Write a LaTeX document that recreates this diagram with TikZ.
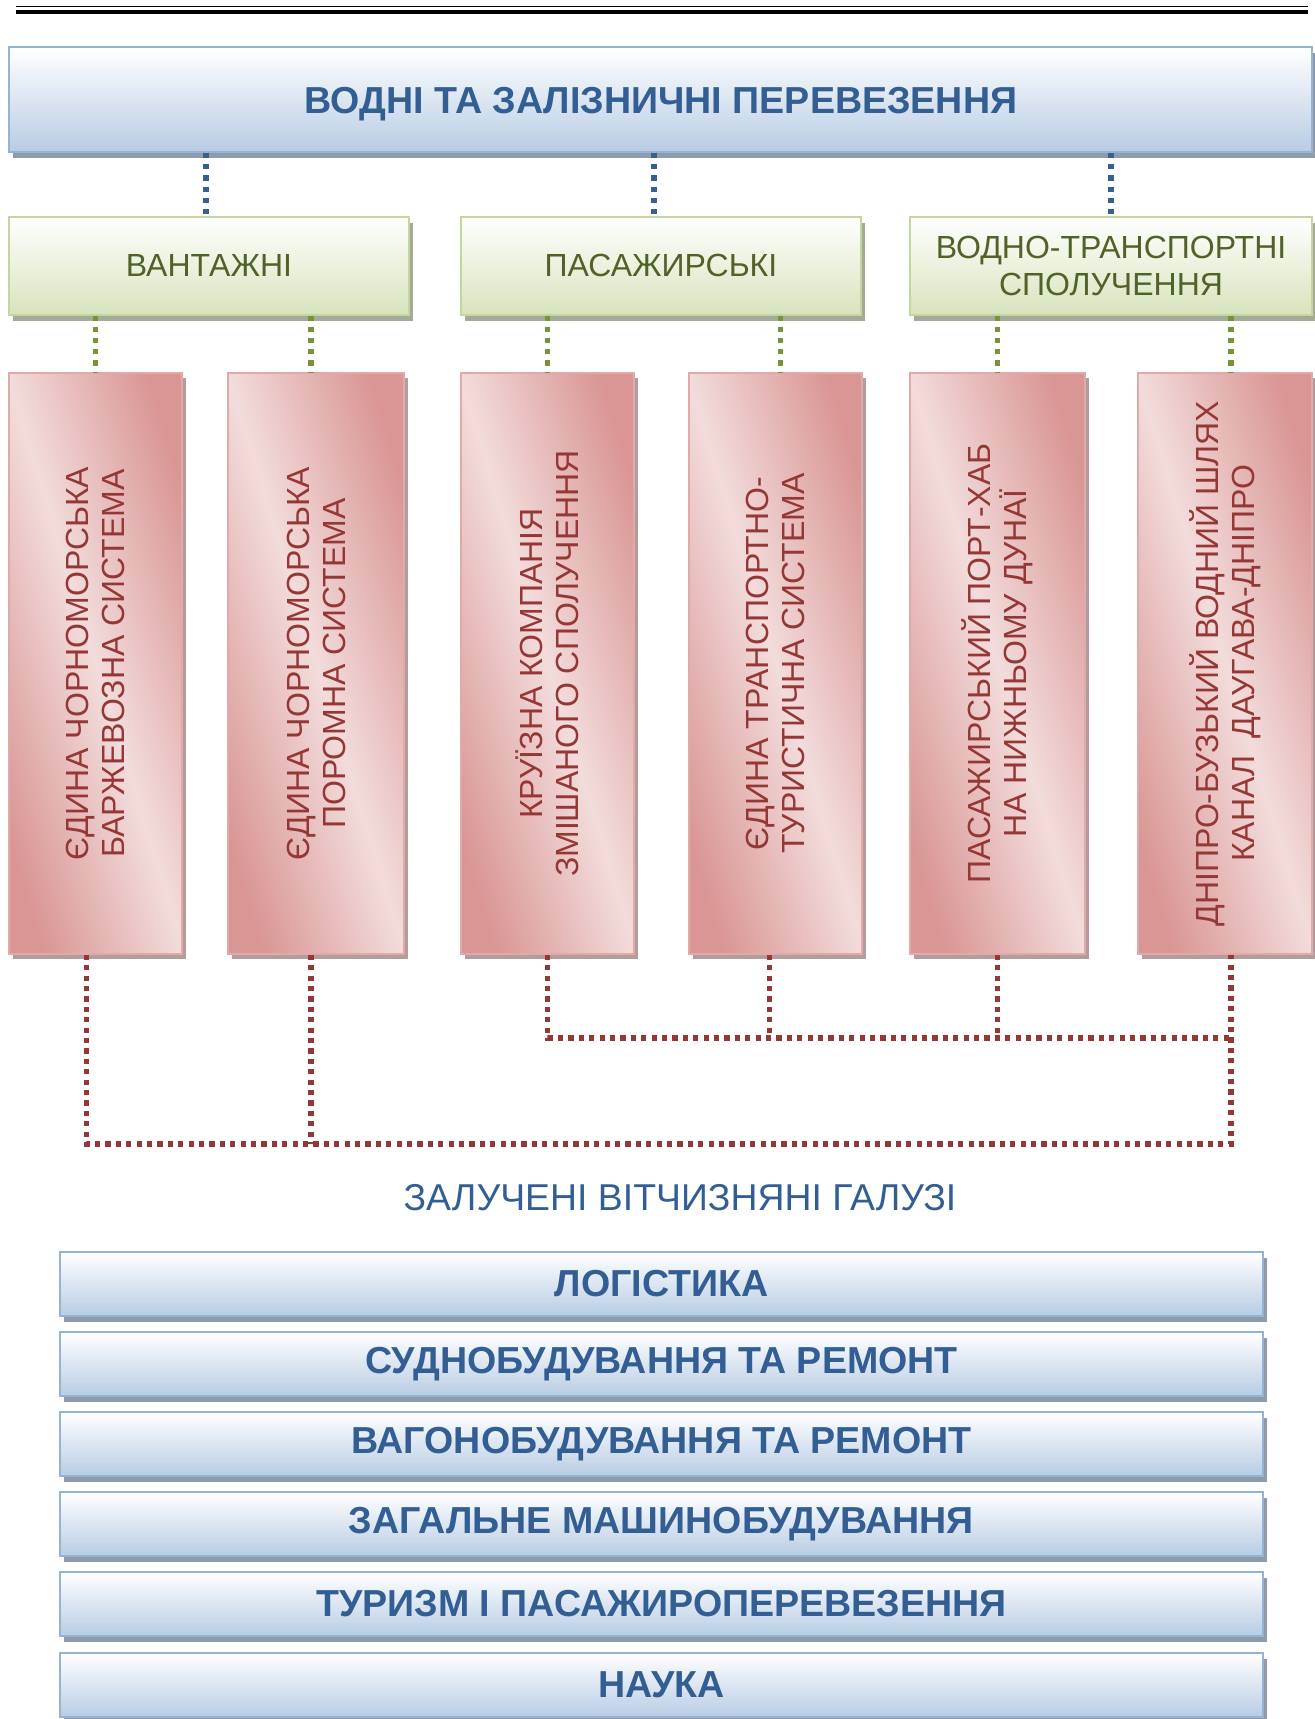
\documentclass[tikz,border=0pt]{standalone}
\usepackage{fontspec}
\setmainfont{Liberation Sans}
\usetikzlibrary{shadows}
\definecolor{btext}{HTML}{325E93}
\definecolor{bborder}{HTML}{95B3D7}
\definecolor{bbottom}{HTML}{B8CCE4}
\definecolor{bshadow}{HTML}{8D9BAD}
\definecolor{bdot}{HTML}{366092}
\definecolor{gtext}{HTML}{4F6228}
\definecolor{gborder}{HTML}{C3D69B}
\definecolor{gbottom}{HTML}{D7E4BD}
\definecolor{gshadow}{HTML}{A3AB96}
\definecolor{gdot}{HTML}{77933C}
\definecolor{rtext}{HTML}{953735}
\definecolor{rlight}{HTML}{F2DCDB}
\definecolor{rdark}{HTML}{D99694}
\definecolor{rborder}{HTML}{E0AAA9}
\definecolor{rshadow}{HTML}{B49C9C}
\definecolor{rdot}{HTML}{953735}
\begin{document}
\begin{tikzpicture}[x=0.5pt,y=-0.5pt,
  bluebox/.style={draw=bborder, line width=1pt, top color=white, bottom color=bbottom,
    drop shadow={shadow xshift=2pt, shadow yshift=-3pt, fill=bshadow, opacity=1},
    inner sep=0pt, text=btext, font=\bfseries\fontsize{18.8}{22}\selectfont},
  greenbox/.style={draw=gborder, line width=1pt, top color=white, bottom color=gbottom,
    drop shadow={shadow xshift=2pt, shadow yshift=-3pt, fill=gshadow, opacity=1},
    inner sep=0pt, text=gtext, align=center, font=\fontsize{16}{18.5}\selectfont,
    minimum width=200pt, minimum height=49pt},
  redbox/.style={draw=rborder, line width=0.8pt,
    top color=rdark, bottom color=rdark, middle color=rlight, shading angle=-73,
    drop shadow={shadow xshift=2pt, shadow yshift=-2.5pt, fill=rshadow, opacity=1},
    inner sep=0pt, minimum height=290.5pt},
  redtext/.style={rotate=90, text=rtext, align=center, inner sep=0pt,
    font=\fontsize{16}{18}\selectfont},
  bdots/.style={draw=bdot, line width=2.6pt, dash pattern=on 2.6pt off 3pt},
  gdots/.style={draw=gdot, line width=2.6pt, dash pattern=on 2.6pt off 3pt},
  rdots/.style={draw=rdot, line width=2.6pt, dash pattern=on 2.6pt off 2.6pt},
  botbox/.style={bluebox, minimum width=601.5pt, minimum height=32pt}
]
\useasboundingbox (0,0) rectangle (1315,1719);

% top rules
\draw[line width=0.7pt] (16,6.5) -- (1308,6.5);
\draw[line width=2pt] (16,12) -- (1308,12);

% title
\node[bluebox, minimum width=651.5pt, minimum height=52.5pt] (title) at (660.5,99.5) {};
\node[text=btext, font=\bfseries\fontsize{18.8}{22}\selectfont, inner sep=0pt] (titletext) at (661,104) {ВОДНІ ТА ЗАЛІЗНИЧНІ ПЕРЕВЕЗЕННЯ};

% green boxes
\node[greenbox] (g1) at (209,265.5) {ВАНТАЖНІ};
\node[greenbox] (g2) at (661,265.5) {ПАСАЖИРСЬКІ};
\node[greenbox, minimum width=201pt] (g3) at (1111,265.5) {ВОДНО-ТРАНСПОРТНІ\\СПОЛУЧЕННЯ};

% red boxes
\node[redbox, minimum width=86.5pt] (r1) at (95.5,663.5) {};
\node[redbox, minimum width=88pt] (r2) at (316,663.5) {};
\node[redbox, minimum width=86.5pt] (r3) at (547.5,663.5) {};
\node[redbox, minimum width=86.5pt] (r4) at (775.5,663.5) {};
\node[redbox, minimum width=87.5pt] (r5) at (997.5,663.5) {};
\node[redbox, minimum width=87pt] (r6) at (1225,663.5) {};

\node[redtext] (t1) at (r1.center) {ЄДИНА ЧОРНОМОРСЬКА\\БАРЖЕВОЗНА СИСТЕМА};
\node[redtext] (t2) at (r2.center) {ЄДИНА ЧОРНОМОРСЬКА\\ПОРОМНА СИСТЕМА};
\node[redtext] (t3) at (r3.center) {КРУЇЗНА КОМПАНІЯ\\ЗМІШАНОГО СПОЛУЧЕННЯ};
\node[redtext] (t4) at (r4.center) {ЄДИНА ТРАНСПОРТНО-\\ТУРИСТИЧНА СИСТЕМА};
\node[redtext] (t5) at (r5.center) {ПАСАЖИРСЬКИЙ ПОРТ-ХАБ\\НА НИЖНЬОМУ ДУНАЇ};
\node[redtext] (t6) at (r6.center) {ДНІПРО-БУЗЬКИЙ ВОДНИЙ ШЛЯХ\\КАНАЛ\ \ ДАУГАВА-ДНІПРО};

% blue connectors
\draw[bdots] ([xshift=-1.5pt]g1.north |- title.south) -- ([xshift=-1.5pt]g1.north);
\draw[bdots] ([xshift=-3.5pt]g2.north |- title.south) -- ([xshift=-3.5pt]g2.north);
\draw[bdots] (g3.north |- title.south) -- (g3.north);

% green connectors
\draw[gdots] (r1.north |- g1.south) -- (r1.north);
\draw[gdots] ([xshift=-2.5pt]r2.north |- g1.south) -- ([xshift=-2.5pt]r2.north);
\draw[gdots] (r3.north |- g2.south) -- (r3.north);
\draw[gdots] ([xshift=2.5pt]r4.north |- g2.south) -- ([xshift=2.5pt]r4.north);
\draw[gdots] (r5.north |- g3.south) -- (r5.north);
\draw[gdots] ([xshift=3pt]r6.north |- g3.south) -- ([xshift=3pt]r6.north);

% red connectors
\coordinate (jU) at (0,1038);
\coordinate (jL) at (0,1144);
\draw[rdots] ([xshift=-4.5pt]r1.south) -- ([xshift=-4.5pt]r1.south |- jL) -- ([xshift=3pt]r6.south |- jL) -- ([xshift=3pt]r6.south);
\draw[rdots] ([xshift=-2.5pt]r2.south) -- ([xshift=-2.5pt]r2.south |- jL);
\draw[rdots] (r3.south) -- (r3.south |- jU) -- ([xshift=3pt]r6.south |- jU);
\draw[rdots] ([xshift=-3pt]r4.south) -- ([xshift=-3pt]r4.south |- jU);
\draw[rdots] (r5.south) -- (r5.south |- jU);

% label
\node[text=btext, font=\fontsize{18.7}{22}\selectfont, inner sep=0pt] (lbl) at (680,1198) {ЗАЛУЧЕНІ ВІТЧИЗНЯНІ ГАЛУЗІ};

% bottom boxes
\node[botbox] (b1) at (661.5,1284) {ЛОГІСТИКА};
\node[botbox] (b2) at (661.5,1364) {СУДНОБУДУВАННЯ ТА РЕМОНТ};
\node[botbox] (b3) at (661.5,1444) {ВАГОНОБУДУВАННЯ ТА РЕМОНТ};
\node[botbox] (b4) at (661.5,1524) {ЗАГАЛЬНЕ МАШИНОБУДУВАННЯ};
\node[botbox] (b5) at (661.5,1604) {ТУРИЗМ І ПАСАЖИРОПЕРЕВЕЗЕННЯ};
\node[botbox] (b6) at (661.5,1685) {НАУКА};
\end{tikzpicture}
\end{document}
